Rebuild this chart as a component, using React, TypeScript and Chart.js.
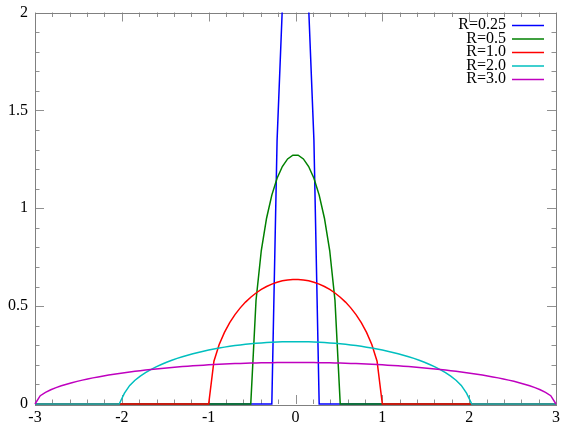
import React, { useEffect, useRef } from "react";
import { Chart, registerables } from "chart.js";

Chart.register(...registerables);

// Sample positions (positive half; curves are symmetric about x = 0)
const xHalf = [
  0.0303, 0.0909, 0.1515, 0.2121, 0.2727, 0.3333, 0.3939, 0.4545, 0.5152, 0.5758,
  0.6364, 0.697, 0.7576, 0.8182, 0.8788, 0.9394, 1.0, 1.0606, 1.1212, 1.1818,
  1.2424, 1.303, 1.3636, 1.4242, 1.4848, 1.5455, 1.6061, 1.6667, 1.7273, 1.7879,
  1.8485, 1.9091, 1.9697, 2.0303, 2.0909, 2.1515, 2.2121, 2.2727, 2.3333, 2.3939,
  2.4545, 2.5152, 2.5758, 2.6364, 2.697, 2.7576, 2.8182, 2.8788, 2.9394, 3.0,
];

const seriesLabels = ["R=0.25", "R=0.5", "R=1.0", "R=2.0", "R=3.0"];
const seriesColors = ["#0000ff", "#008000", "#ff0000", "#00bfbf", "#bf00bf"];

const yR025 = [2.528, 2.372, 2.026, 1.348, 0];
const yR05 = [1.271, 1.252, 1.213, 1.153, 1.067, 0.949, 0.784, 0.53, 0];
const yR1 = [
  0.6363, 0.634, 0.6293, 0.6221, 0.6125, 0.6002, 0.5851, 0.5671, 0.5456, 0.5205,
  0.4911, 0.4565, 0.4156, 0.366, 0.3038, 0.2183, 0,
];
const yR2 = [
  0.3183, 0.318, 0.3174, 0.3165, 0.3153, 0.3139, 0.3121, 0.31, 0.3076, 0.3048,
  0.3018, 0.2984, 0.2946, 0.2905, 0.2859, 0.281, 0.2757, 0.2699, 0.2636, 0.2568,
  0.2494, 0.2415, 0.2329, 0.2235, 0.2132, 0.202, 0.1897, 0.176, 0.1605, 0.1427,
  0.1215, 0.0949, 0.0552, 0,
];
const yR3 = [
  0.2122, 0.2121, 0.2119, 0.2117, 0.2113, 0.2109, 0.2104, 0.2098, 0.2091, 0.2083,
  0.2074, 0.2064, 0.2053, 0.2042, 0.2029, 0.2015, 0.2001, 0.1985, 0.1968, 0.1951,
  0.1932, 0.1912, 0.189, 0.1868, 0.1844, 0.1819, 0.1792, 0.1765, 0.1735, 0.1704,
  0.1671, 0.1637, 0.1601, 0.1562, 0.1522, 0.1479, 0.1433, 0.1385, 0.1334, 0.1279,
  0.122, 0.1157, 0.1088, 0.1013, 0.0929, 0.0836, 0.0728, 0.0597, 0.0424, 0,
];
const seriesValues = [yR025, yR05, yR1, yR2, yR3];

const xMin = -3;
const xMax = 3;
const yMin = 0;
const yMax = 2;
const yTickLabels: Record<string, string> = { "0": "0", "0.5": "0.5", "1": "1", "1.5": "1.5", "2": "2" };

function buildPoints(yHalf: number[]) {
  const pos = yHalf.map((y, i) => ({ x: xHalf[i], y }));
  const neg = pos.slice().reverse().map((p) => ({ x: -p.x, y: p.y }));
  const pts = [...neg, ...pos];
  if (pts[0].x > xMin) pts.unshift({ x: xMin, y: 0 });
  if (pts[pts.length - 1].x < xMax) pts.push({ x: xMax, y: 0 });
  return pts;
}

const FONT = '"Liberation Serif", "DejaVu Serif", serif';

const framePlugin = {
  id: "frameTicks",
  beforeDatasetsDraw(chart: any) {
    const { ctx, chartArea } = chart;
    const xs = chart.scales.x;
    const ys = chart.scales.y;
    const { left, right, top, bottom } = chartArea;
    ctx.save();
    ctx.strokeStyle = "#909090";
    ctx.lineWidth = 1;
    for (let i = 0; i <= 30; i++) {
      const v = xMin + i * 0.2;
      const px = Math.round(xs.getPixelForValue(v)) + 0.5;
      const len = i % 5 === 0 ? 9 : 4.5;
      ctx.beginPath();
      ctx.moveTo(px, bottom);
      ctx.lineTo(px, bottom - len);
      ctx.moveTo(px, top);
      ctx.lineTo(px, top + len);
      ctx.stroke();
    }
    for (let i = 0; i <= 20; i++) {
      const v = yMin + i * 0.1;
      const py = Math.round(ys.getPixelForValue(v)) + 0.5;
      const len = i % 5 === 0 ? 9 : 4.5;
      ctx.beginPath();
      ctx.moveTo(left, py);
      ctx.lineTo(left + len, py);
      ctx.moveTo(right, py);
      ctx.lineTo(right - len, py);
      ctx.stroke();
    }
    ctx.strokeStyle = "#808080";
    ctx.strokeRect(Math.round(left) + 0.5, Math.round(top) + 0.5, Math.round(right - left), Math.round(bottom - top));
    ctx.restore();
  },
  afterDatasetsDraw(chart: any) {
    const { ctx } = chart;
    ctx.save();
    ctx.font = `16px ${FONT}`;
    ctx.textAlign = "right";
    ctx.textBaseline = "middle";
    chart.data.datasets.forEach((ds: any, i: number) => {
      const y = 25 + i * 13.5;
      ctx.fillStyle = "#000";
      ctx.fillText(ds.label, 506, y);
      ctx.strokeStyle = ds.borderColor;
      ctx.lineWidth = 1.5;
      ctx.beginPath();
      ctx.moveTo(512, y + 0.5);
      ctx.lineTo(544, y + 0.5);
      ctx.stroke();
    });
    ctx.restore();
  },
};

export default function App() {
  const ref = useRef<HTMLCanvasElement>(null);
  useEffect(() => {
    if (!ref.current) return;
    const chart = new Chart(ref.current, {
      type: "line",
      data: {
        datasets: seriesLabels.map((label, i) => ({
          label,
          data: buildPoints(seriesValues[i]),
          borderColor: seriesColors[i],
          backgroundColor: seriesColors[i],
          borderWidth: 1.5,
          pointRadius: 0,
          tension: 0,
          fill: false,
          clip: { left: 1, right: 1, top: 0, bottom: 2 },
          order: seriesLabels.length - i,
        })),
      },
      options: {
        animation: false,
        responsive: false,
        layout: { padding: { left: 0, right: 20, top: 12.5, bottom: 0 } },
        plugins: { legend: { display: false }, tooltip: { enabled: false } },
        scales: {
          x: {
            type: "linear",
            min: xMin,
            max: xMax,
            grid: { display: false, drawTicks: false },
            border: { display: false },
            ticks: {
              stepSize: 1,
              autoSkip: false,
              maxRotation: 0,
              padding: 4,
              color: "#000",
              font: { family: FONT, size: 16 },
              callback: (v: any) => String(v),
            },
            afterFit: (s: any) => {
              s.height = 28;
              s.paddingLeft = 0;
              s.paddingRight = 0;
            },
          },
          y: {
            type: "linear",
            min: yMin,
            max: yMax,
            grid: { display: false, drawTicks: false },
            border: { display: false },
            ticks: {
              stepSize: 0.5,
              autoSkip: false,
              padding: 7,
              color: "#000",
              font: { family: FONT, size: 16 },
              callback: (v: any) => yTickLabels[String(v)] ?? String(v),
            },
            afterFit: (s: any) => {
              s.width = 35;
              s.paddingTop = 0;
              s.paddingBottom = 0;
            },
          },
        },
      },
      plugins: [framePlugin],
    });
    return () => chart.destroy();
  }, []);
  return (
    <div style={{ position: "absolute", left: 0, top: 0, width: 576, height: 432, background: "#fff" }}>
      <canvas ref={ref} width={576} height={432} style={{ display: "block", width: 576, height: 432 }} />
    </div>
  );
}
